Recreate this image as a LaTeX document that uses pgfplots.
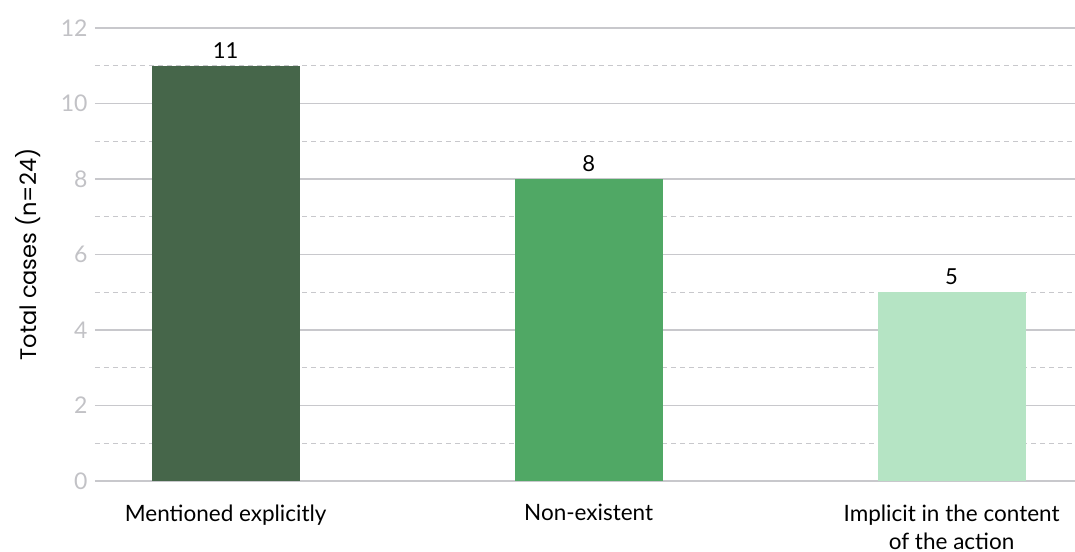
\documentclass[border=0pt]{standalone}
\usepackage{pgfplots}
\pgfplotsset{compat=1.18}
\usepackage{fontspec}
\setmainfont{Lato}
\newfontfamily\labelfont{Poppins}
\definecolor{barA}{HTML}{46664A}
\definecolor{barB}{HTML}{50A865}
\definecolor{barC}{HTML}{B5E4C4}
\definecolor{gridc}{HTML}{C8C8CC}
\definecolor{tickc}{HTML}{C2C2C6}
\begin{document}
\begin{tikzpicture}[x=1bp,y=1bp]
\begin{axis}[
  scale only axis,
  width=980bp, height=453bp,
  ymin=0, ymax=12,
  xmin=-0.36, xmax=2.34,
  ytick={0,2,4,6,8,10,12},
  minor ytick={1,3,5,7,9,11},
  ymajorgrids, yminorgrids,
  major grid style={gridc, line width=1.1bp},
  minor grid style={gridc, line width=1bp, dash pattern=on 5bp off 4bp},
  axis line style={draw=none},
  major tick length=0pt, minor tick length=0pt,
  xtick={0,1,2},
  xticklabels={Mentioned explicitly, Non-existent, {Implicit in the content\\of the action}},
  xticklabel style={align=center, font=\fontsize{22.5bp}{28bp}\selectfont, text=black, yshift=-20bp},
  yticklabel style={font=\fontsize{23bp}{24bp}\selectfont, text=tickc, xshift=-4bp},
  /pgf/number format/assume math mode=true,
  ylabel={\labelfont Total cases (n=24)},
  every axis y label/.style={at={([xshift=-67bp]axis description cs:0,0.5)}, rotate=90, anchor=center,
    font=\fontsize{22.5bp}{26bp}\selectfont, text=black},
  ybar, bar width=0.408, bar shift=0pt,
  nodes near coords,
  every node near coord/.append style={font=\fontsize{22bp}{24bp}\selectfont, text=black, yshift=4bp},
  clip=false,
]
\addplot[fill=barA, draw=none] coordinates {(0,11)};
\addplot[fill=barB, draw=none] coordinates {(1,8)};
\addplot[fill=barC, draw=none] coordinates {(2,5)};
\end{axis}
\pgfresetboundingbox
\path ([shift={(-95bp,-71bp)}]current axis.south west) rectangle ([shift={(0bp,28bp)}]current axis.north east);
\end{tikzpicture}
\end{document}
